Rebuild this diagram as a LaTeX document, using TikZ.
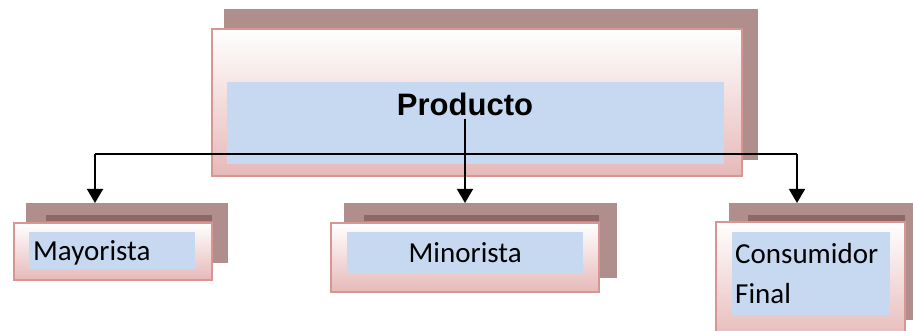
\documentclass[tikz,border=0pt]{standalone}
\usepackage{fontspec}
\setmainfont{Carlito}
\newfontfamily\arialfont{Liberation Sans}
\usepackage{tikz}
\usetikzlibrary{
  arrows.meta,
  positioning}

\definecolor{sombra}{HTML}{AF8E8C}
\definecolor{sombraosc}{HTML}{8E6866}
\definecolor{borde}{HTML}{D99594}
\definecolor{rosa}{HTML}{E6B9B8}
\definecolor{azul}{HTML}{C6D9F1}

\tikzset{
  sombrabox/.style={fill=sombra, inner sep=0pt, anchor=north west},
  franjabox/.style={fill=sombraosc, inner sep=0pt, anchor=north west},
  cajabox/.style={draw=borde, line width=2pt, top color=white,
    middle color=rosa!30!white, bottom color=rosa, inner sep=0pt, anchor=north west},
  textobox/.style={fill=azul, inner sep=0pt, anchor=north west},
  etiqueta/.style={font=\fontsize{29}{40}\selectfont},
  flecha/.style={line width=1.5pt, -{Triangle[width=16pt,length=14pt]}}
}

\begin{document}
\begin{tikzpicture}[x=1pt,y=-1pt]
  \useasboundingbox (0,0) rectangle (913,331);
  \clip (0,0) rectangle (913,331);

  \node[sombrabox, minimum width=534, minimum height=151] (prodsombra) at (224,9) {};
  \node[cajabox, minimum width=530, minimum height=147] (prod) at (211,28) {};
  \node[textobox, minimum width=497, minimum height=82] (prodazul) at (227,82) {};
  \node[font=\arialfont\bfseries\fontsize{31}{36}\selectfont] (prodtexto) at (465,104) {Producto};

  \node[sombrabox, minimum width=202, minimum height=60] (mayorsombra) at (26,203) {};
  \node[franjabox, minimum width=166, minimum height=6] (mayorfranja) at (46,215) {};
  \node[cajabox, minimum width=198, minimum height=57] (mayor) at (13,222) {};
  \node[textobox, etiqueta, minimum width=166, minimum height=37, text depth=0pt,
    text width=158, align=left, inner xsep=4pt] (mayoraz) at (29,232) {Mayorista};

  \node[sombrabox, minimum width=273, minimum height=75] (minorsombra) at (344,203) {};
  \node[franjabox, minimum width=235, minimum height=6] (minorfranja) at (364,215) {};
  \node[cajabox, minimum width=268, minimum height=69] (minor) at (330,222) {};
  \node[textobox, etiqueta, minimum width=236, minimum height=41, text depth=0pt] (minoraz) at (347,232) {Minorista};

  \node[sombrabox, minimum width=200, minimum height=117] (consumsombra) at (729,203) {};
  \node[franjabox, minimum width=157, minimum height=6] (consumfranja) at (748,215) {};
  \node[cajabox, minimum width=189, minimum height=120] (consum) at (715,221) {};
  \node[textobox, etiqueta, minimum width=158, minimum height=83,
    text width=152, align=left, inner xsep=3pt] (consumaz) at (732,232) {Consumidor\\Final};

  \coordinate (izq) at (95,154);
  \coordinate (der) at (797,154);
  \draw[line width=1.5pt] (izq) -- (der);
  \draw[flecha] (izq) -- (izq |- mayorsombra.north);
  \draw[flecha] (der) -- (der |- consumsombra.north);
  \draw[flecha] (prodtexto.south) -- (prodtexto.south |- minorsombra.north);
\end{tikzpicture}
\end{document}
